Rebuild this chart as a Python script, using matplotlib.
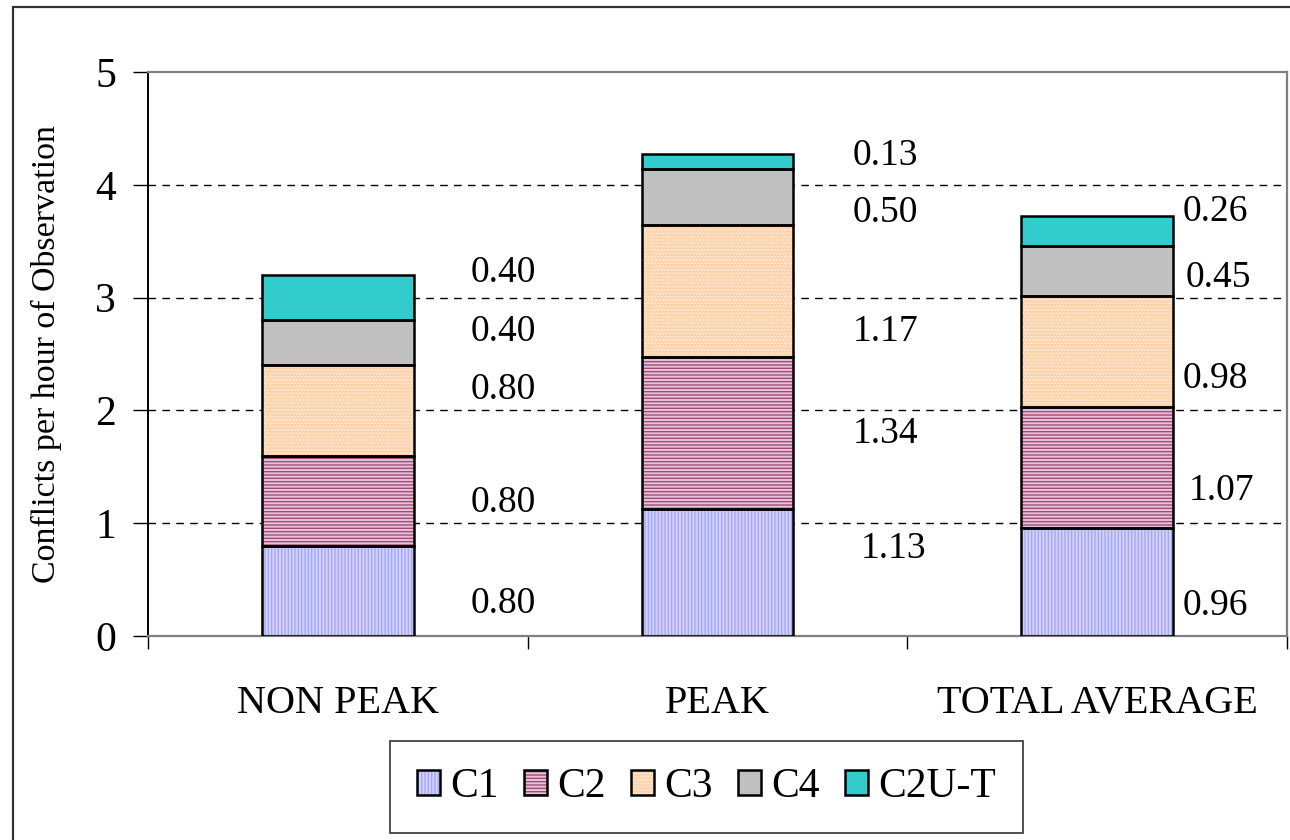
import matplotlib
matplotlib.use('Agg')
import matplotlib.pyplot as plt
import matplotlib.patches as mpatches

plt.rcParams['font.family'] = ['Liberation Serif', 'DejaVu Serif']
plt.rcParams['hatch.linewidth'] = 1.0

# data
categories = ['NON PEAK', 'PEAK', 'TOTAL AVERAGE']
series = ['C1', 'C2', 'C3', 'C4', 'C2U-T']
c1 = [0.80, 1.13, 0.96]
c2 = [0.80, 1.34, 1.07]
c3 = [0.80, 1.17, 0.98]
c4 = [0.40, 0.50, 0.45]
c2ut = [0.40, 0.13, 0.26]
values = [c1, c2, c3, c4, c2ut]

# styles: face colour, hatch colour, hatch pattern
faces = ['#D2D2FF', '#E8C0D6', '#FFD2AA', '#C0C0C0', '#33CCCC']
hatch_cols = ['#A6A6F2', '#A04E7C', '#FFEEDD', '#C0C0C0', '#33CCCC']
hatches = ['|||||', '-----', '.....', None, None]

# where the value labels sit (hand placed like the original)
label_dx = [[0.35, 0.35, 0.35, 0.35, 0.35],
            [0.377, 0.356, 0.356, 0.356, 0.356],
            [0.224, 0.242, 0.224, 0.234, 0.224]]
label_y = [[0.29, 1.18, 2.18, 2.70, 3.22],
           [0.77, 1.79, 2.70, 3.75, 4.26],
           [0.27, 1.29, 2.28, 3.18, 3.76]]

fig = plt.figure(figsize=(12.9, 8.4), dpi=100)
ax = fig.add_axes([148 / 1290, 1 - 636 / 840, (1287 - 148) / 1290, (636 - 72) / 840])

x = list(range(len(categories)))
bottom = [0.0] * len(categories)
handles = []
for k, name in enumerate(series):
    fill = ax.bar(x, values[k], 0.4, bottom=bottom, color=faces[k],
                  edgecolor=hatch_cols[k], hatch=hatches[k], linewidth=0, zorder=2)
    edge = ax.bar(x, values[k], 0.4, bottom=bottom, fill=False,
                  edgecolor='black', linewidth=1.8, zorder=3)
    handles.append((fill[0], edge[0]))
    bottom = [b + v for b, v in zip(bottom, values[k])]

# value labels
for i in range(len(categories)):
    for k in range(len(series)):
        ax.text(i + label_dx[i][k], label_y[i][k], f'{values[k][i]:.2f}',
                ha='left', va='center', fontsize=27)

# dashed grid
for v in [1, 2, 3, 4]:
    ax.axhline(v, color='black', linewidth=1.0, dashes=(5.5, 4.5), zorder=1)

ax.set_xlim(-0.5, 2.5)
ax.set_ylim(0, 5)
ax.set_yticks([0, 1, 2, 3, 4, 5])
ax.tick_params(axis='y', labelsize=30, length=11, width=1, pad=12)
ax.set_xticks(x, categories)
ax.set_xticks([-0.5, 0.5, 1.5, 2.5], minor=True)
ax.tick_params(axis='x', which='major', length=0, labelsize=29, pad=35)
ax.tick_params(axis='x', which='minor', length=9, width=1)
ax.set_ylabel('Conflicts per hour of Observation', fontsize=24.5, labelpad=24)

for s in ['top', 'right', 'bottom']:
    ax.spines[s].set_color('#808080')
    ax.spines[s].set_linewidth(1.6)
ax.spines['left'].set_color('black')
ax.spines['left'].set_linewidth(1.4)

fig.legend(handles, series, loc='center', bbox_to_anchor=(0.5477, 0.0631),
           ncol=5, fontsize=30, frameon=True, fancybox=False, edgecolor='black',
           handlelength=0.55, handleheight=0.55, handletextpad=0.25,
           columnspacing=0.6, borderpad=0.65).get_frame().set_linewidth(1.2)

# outer frame
fig.patches.append(mpatches.Rectangle((13 / 1290, -0.1), 2, 1.1 - 7 / 840,
                                      transform=fig.transFigure, fill=False,
                                      edgecolor='#333333', linewidth=1.6))

fig.savefig('out.png', dpi=100)
